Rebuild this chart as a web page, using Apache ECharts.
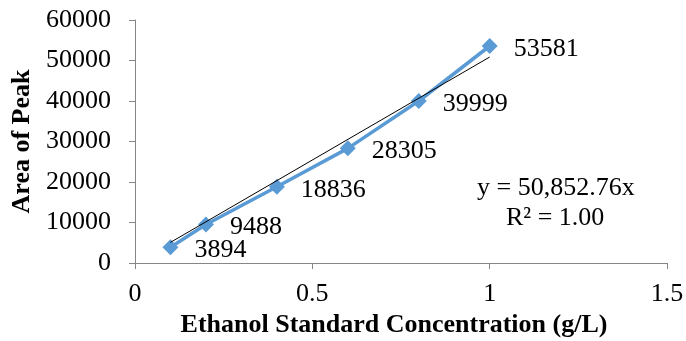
<!DOCTYPE html>
<html><head><meta charset="utf-8">
<script src="https://cdn.jsdelivr.net/npm/echarts@6/dist/echarts.min.js"></script>
<style>html,body{margin:0;padding:0;background:#fff}#c{width:686px;height:341px}</style>
</head><body><div id="c"></div>
<script>
const concentration = [0.1, 0.2, 0.4, 0.6, 0.8, 1.0];
const peakArea = [3894, 9488, 18836, 28305, 39999, 53581];
const slope = 50852.76;
const trendX = [0.1, 1.0];
const eqText = ['y = 50,852.76x', 'R² = 1.00'];
const F = '"Liberation Serif","Times New Roman",serif';
const axisCol = '#868686';
const chart = echarts.init(document.getElementById('c'));
chart.setOption({
  animation: false,
  grid: {left: 135, right: 19, top: 20, bottom: 78, containLabel: false, outerBoundsMode: 'none'},
  xAxis: {
    type: 'value', min: 0, max: 1.5, interval: 0.5,
    name: 'Ethanol Standard Concentration (g/L)', nameLocation: 'middle', nameGap: 47,
    nameTextStyle: {fontFamily: F, fontWeight: 'bold', fontSize: 26, color: '#000', padding: [0, 14, 0, 0]},
    axisLine: {show: true, lineStyle: {color: axisCol, width: 1}},
    axisTick: {show: true, length: 6, lineStyle: {color: axisCol}},
    axisLabel: {fontFamily: F, fontSize: 26, color: '#000', margin: 18},
    splitLine: {show: false}
  },
  yAxis: {
    type: 'value', min: 0, max: 60000, interval: 10000,
    name: 'Area of Peak', nameLocation: 'middle', nameGap: 98, nameRotate: 90,
    nameTextStyle: {fontFamily: F, fontWeight: 'bold', fontSize: 26, color: '#000'},
    axisLine: {show: true, lineStyle: {color: axisCol, width: 1}},
    axisTick: {show: true, length: 6, lineStyle: {color: axisCol}},
    axisLabel: {fontFamily: F, fontSize: 26, color: '#000', margin: 24, formatter: v => String(v)},
    splitLine: {show: false}
  },
  series: [
    {
      type: 'line', data: concentration.map((x, i) => [x, peakArea[i]]),
      lineStyle: {color: '#5b9bd5', width: 3.5},
      itemStyle: {color: '#5b9bd5'},
      symbol: 'diamond', symbolSize: 16, z: 2,
      label: {show: true, position: 'right', distance: 16, offset: [0, 3],
        fontFamily: F, fontSize: 26, color: '#000'}
    },
    {
      type: 'line', data: trendX.map(x => [x, slope * x]),
      lineStyle: {color: '#000', width: 1}, symbol: 'none', z: 3, silent: true
    }
  ],
  graphic: [
    {type: 'text', left: 477, top: 175, style: {text: eqText[0], font: '26px ' + F, fill: '#000'}},
    {type: 'text', left: 506, top: 205, style: {text: eqText[1], font: '26px ' + F, fill: '#000'}}
  ]
});
</script></body></html>
